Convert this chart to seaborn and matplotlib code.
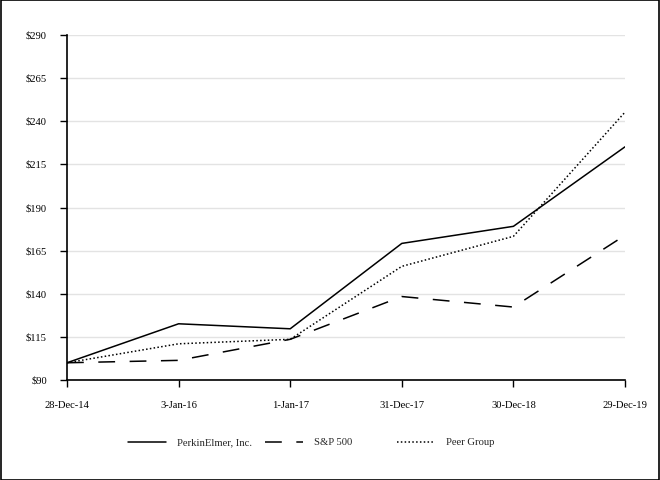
import matplotlib
matplotlib.use("Agg")
import matplotlib.pyplot as plt
import seaborn as sns
import pandas as pd
from matplotlib.patches import Rectangle

dates = ["28-Dec-14", "3-Jan-16", "1-Jan-17", "31-Dec-17", "30-Dec-18", "29-Dec-19"]
perkinelmer = [100, 122.6, 119.7, 169.2, 179.1, 225.2]
sp500 = [100, 101.4, 113.6, 138.4, 132.3, 173.9]
peer_group = [100, 111.0, 113.6, 155.9, 173.3, 245.3]
series_names = ["PerkinElmer, Inc.", "S&P 500", "Peer Group"]
y_ticks = [90, 115, 140, 165, 190, 215, 240, 265, 290]

rows = []
for name, vals in zip(series_names, [perkinelmer, sp500, peer_group]):
    for i, v in enumerate(vals):
        rows.append({"idx": i, "value": v, "series": name})
df = pd.DataFrame(rows)

sns.set_theme(style="white")
plt.rcParams["font.family"] = ["Liberation Serif", "DejaVu Serif"]

fig = plt.figure(figsize=(6.6, 4.8), dpi=100)
ax = fig.add_axes([0.1015, 0.2083, 0.8455, 0.7187])

styles = {
    "PerkinElmer, Inc.": "-",
    "S&P 500": (0, (11, 9.5)),
    "Peer Group": (0, (1, 1.5)),
}
for name in series_names:
    sub = df[df["series"] == name]
    sns.lineplot(data=sub, x="idx", y="value", ax=ax, color="black",
                 linewidth=1.1, linestyle=styles[name], label=name, legend=False)

ax.set_xlim(0, 5)
ax.set_ylim(90, 290)
ax.set_yticks(y_ticks)
ax.set_yticklabels([f"${t}" for t in y_ticks], fontsize=7.6)
ax.set_xticks(range(len(dates)))
ax.set_xticklabels(dates, fontsize=7.6)
ax.set_xlabel("")
ax.set_ylabel("")

ax.grid(axis="y", color="#e3e3e3", linewidth=1)
ax.set_axisbelow(True)
for s in ["top", "right"]:
    ax.spines[s].set_visible(False)
for s in ["left", "bottom"]:
    ax.spines[s].set_color("black")
    ax.spines[s].set_linewidth(1.2)
ax.tick_params(axis="both", direction="out", length=5, width=1, color="black",
               labelcolor="black", left=True, bottom=True)
ax.tick_params(axis="y", pad=9.5)
ax.tick_params(axis="x", pad=10)

handles, labels = ax.get_legend_handles_labels()
legend_x = [128 / 660, 265 / 660, 397 / 660]
for h, l, x in zip(handles, labels, legend_x):
    fig.legend([h], [l], loc="center left", bbox_to_anchor=(x, 0.078),
               frameon=False, fontsize=7.7, handlelength=3.55,
               handletextpad=1.0, borderpad=0, borderaxespad=0)

fig.patches.append(Rectangle((0.001, 0.001), 0.998, 0.998, transform=fig.transFigure,
                             fill=False, edgecolor="black", linewidth=1.2))

fig.savefig("out.png", dpi=100)
